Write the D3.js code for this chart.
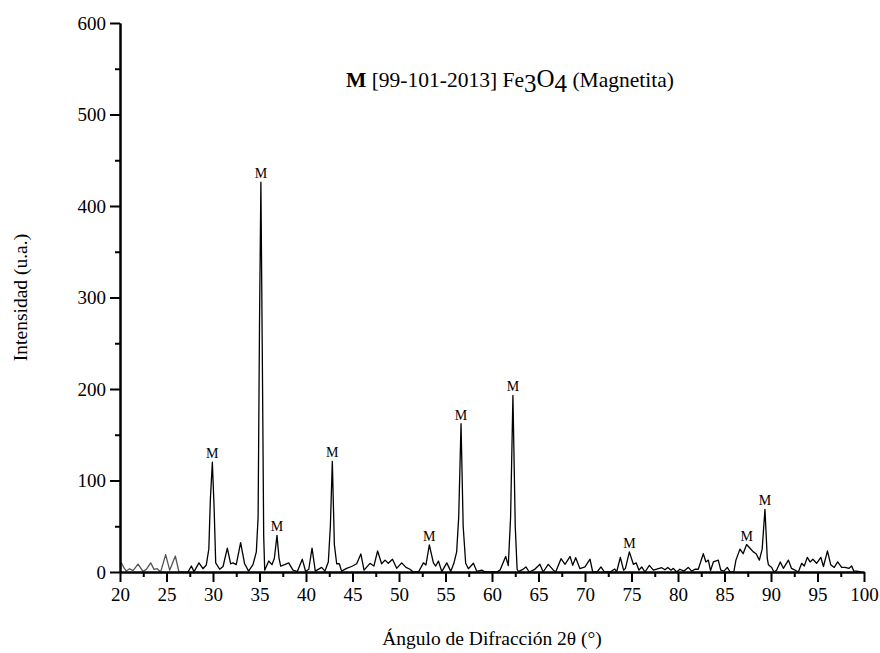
<!DOCTYPE html>
<html>
<head>
<meta charset="utf-8">
<script src="https://cdn.jsdelivr.net/npm/d3@7"></script>
<style>
  body { margin: 0; background: #fff; }
  text { font-family: "Liberation Serif", "Times New Roman", serif; }
</style>
</head>
<body>
<div id="chart"></div>
<script>
var angles = [20.0, 20.15, 20.4, 20.68, 21.04, 21.4, 21.94, 22.47, 22.83, 23.3, 23.66, 24.0, 24.37, 24.91, 25.34, 25.95, 26.34, 27.31, 27.67, 27.96,
  28.49, 28.92, 29.28, 29.55, 29.72, 29.93, 30.12, 30.29, 30.72, 31.08, 31.54, 31.9, 32.15, 32.5, 32.97, 33.4, 33.83, 34.3, 34.66, 34.85,
  35.0, 35.15, 35.3, 35.45, 35.56, 35.99, 36.34, 36.6, 36.88, 37.1, 37.28, 37.7, 38.14, 38.6, 39.07, 39.6, 39.96, 40.3, 40.65, 41.0,
  41.68, 42.04, 42.4, 42.62, 42.83, 43.05, 43.3, 43.58, 43.83, 44.37, 44.9, 45.45, 45.9, 46.24, 46.88, 47.3, 47.7, 48.13, 48.5, 48.85,
  49.3, 49.75, 50.29, 50.75, 51.18, 51.54, 52.1, 52.62, 52.9, 53.26, 53.7, 53.95, 54.24, 54.6, 55.14, 55.57, 55.9, 56.2, 56.42, 56.67,
  56.9, 57.17, 57.46, 58.0, 58.36, 58.9, 59.25, 60.5, 60.86, 61.47, 61.75, 62.0, 62.25, 62.5, 62.7, 62.84, 63.26, 63.65, 64.0, 64.55,
  65.15, 65.5, 66.05, 66.6, 66.85, 67.42, 67.85, 68.4, 68.68, 69.0, 69.46, 70.0, 70.54, 70.83, 71.3, 71.72, 72.08, 72.7, 73.2, 73.4,
  73.8, 74.15, 74.35, 74.77, 75.2, 75.5, 75.8, 76.1, 76.45, 76.92, 77.35, 77.9, 78.25, 78.6, 78.9, 79.25, 79.5, 79.86, 80.2, 80.64,
  81.1, 81.47, 81.83, 82.18, 82.72, 83.0, 83.26, 83.5, 83.8, 84.33, 84.6, 84.94, 85.3, 85.6, 86.0, 86.23, 86.66, 87.0, 87.38, 87.74,
  88.1, 88.4, 88.75, 89.05, 89.35, 89.6, 89.72, 90.07, 90.32, 90.6, 91.0, 91.33, 91.87, 92.2, 92.58, 92.94, 93.3, 93.58, 93.9, 94.2,
  94.5, 94.9, 95.36, 95.64, 96.07, 96.42, 96.8, 97.17, 97.6, 97.95, 98.4, 98.67, 98.9, 99.2, 99.7];
var intensities = [9, 10, 5, 1, 3.6, 1.5, 8.7, 0.7, 2.9, 10, 2.9, 3.6, 0, 19, 2, 17.5, 0, 0, 6.6, 0.4,
  10, 3.6, 7.7, 25, 80, 120, 70, 10, 3, 6, 26, 9, 10, 8, 32, 9, 1, 8, 22, 60,
  270, 426, 240, 40, 2, 12, 8, 15, 40, 15, 6.5, 8, 10, 2, 0.5, 14, 0.5, 3, 26, 1,
  5, 1, 11, 50, 121, 30, 9, 9, 1, 4, 6, 9, 19.7, 2, 9.5, 6.5, 23, 9, 13, 9.5,
  14, 4, 10, 5, 3, 0, 0, 10, 7.7, 29.5, 10, 6.5, 12, 0.4, 10, 0.7, 9.5, 22, 60, 162,
  50, 9.5, 3.6, 9.5, 0.7, 2, 0, 0, 2, 17, 7, 60, 193, 50, 3, 0.5, 2.5, 5.5, 0, 2.5,
  8.4, 0, 8.4, 2, 0, 14.6, 8.4, 17, 7.3, 15.6, 3.6, 5.5, 14, 0, 0, 5.5, 0, 0, 3.3, 0,
  16, 2, 4, 22, 8.4, 10, 2, 5.5, 0, 7.3, 2, 3.6, 4.7, 2.5, 5, 2, 4, 0, 3, 1,
  5, 1, 3, 3, 20, 11, 13, 1.5, 11, 13, 2, 1, 5, 0, 0, 13, 25, 20, 30, 26,
  22, 20, 13, 25, 68.5, 15, 8, 5, 0, 2, 11, 4, 13, 4, 2, 0, 9.5, 6.5, 16, 11,
  14, 9.5, 16, 6, 23, 8, 5, 11, 5, 5, 4, 6.5, 1, 1, 0];

// peaks indexed as magnetite (M)
var peaksM = [29.93, 35.15, 36.88, 42.83, 53.26, 56.67, 62.25, 74.77, 87.38, 89.35];

var xTicks = [20, 25, 30, 35, 40, 45, 50, 55, 60, 65, 70, 75, 80, 85, 90, 95, 100];
var yTicks = [0, 100, 200, 300, 400, 500, 600];

var W = 880, H = 653;
var mL = 120, mT = 23, mR = 864, mB = 572;

var svg = d3.select("#chart").append("svg")
	.attr("width", W)
	.attr("height", H)

var x = d3.scaleLinear().domain([20, 100]).range([mL, mR]);
var y = d3.scaleLinear().domain([0, 600]).range([mB, mT]);

var data = angles.map(function(a, i) { return { a: a, v: intensities[i] }; });

var line = d3.line()
	.x(function(d) { return x(d.a); })
	.y(function(d) { return y(d.v); })

// first stretch of the scan is drawn lighter in the original
var split = angles.indexOf(27.31);
svg.append("path")
	.datum(data.slice(0, split + 1))
	.attr("fill", "none")
	.attr("stroke", "#555")
	.attr("stroke-width", 1.3)
	.attr("stroke-linejoin", "round")
	.attr("d", line)
svg.append("path")
	.datum(data.slice(split))
	.attr("fill", "none")
	.attr("stroke", "#000")
	.attr("stroke-width", 1.3)
	.attr("stroke-linejoin", "round")
	.attr("d", line)

// M labels over the peaks
svg.selectAll("text.m")
	.data(peaksM)
	.enter()
		.append("text")
		.attr("class", "m")
		.attr("text-anchor", "middle")
		.attr("font-size", "14px")
		.attr("x", function(d) { return x(d); })
		.attr("y", function(d) { return y(intensities[angles.indexOf(d)]) - 4; })
		.text("M")

// axes
var xAxis = d3.axisBottom(x).tickValues(xTicks).tickSize(10).tickSizeOuter(0).tickPadding(6);
var xMinor = d3.axisBottom(x).tickValues(d3.range(22.5, 100, 5)).tickSize(5).tickSizeOuter(0).tickFormat("");
var yAxis = d3.axisLeft(y).tickValues(yTicks).tickSize(10).tickSizeOuter(0).tickPadding(4);
var yMinor = d3.axisLeft(y).tickValues(d3.range(50, 600, 100)).tickSize(5).tickSizeOuter(0).tickFormat("");

function styleAxis(g) {
	g.selectAll("path").attr("stroke", "#000").attr("stroke-width", 2)
	g.selectAll("line").attr("stroke", "#000").attr("stroke-width", 2)
	g.selectAll("text").attr("fill", "#000").attr("font-size", "19px")
		.attr("font-family", "Liberation Serif, Times New Roman, serif")
}

svg.append("g").attr("transform", "translate(0," + mB + ")").call(xMinor).call(styleAxis)
svg.append("g").attr("transform", "translate(0," + mB + ")").call(xAxis).call(styleAxis)
svg.append("g").attr("transform", "translate(" + mL + ",0)").call(yMinor).call(styleAxis)
svg.append("g").attr("transform", "translate(" + mL + ",0)").call(yAxis).call(styleAxis)

// axis titles
svg.append("text")
	.attr("text-anchor", "middle")
	.attr("font-size", "19.5px")
	.attr("x", 492)
	.attr("y", 645)
	.text("Ángulo de Difracción 2θ (°)")

svg.append("text")
	.attr("text-anchor", "middle")
	.attr("font-size", "19.5px")
	.attr("transform", "translate(27," + ((mT + mB) / 2) + ") rotate(-90)")
	.text("Intensidad (u.a.)")

// phase legend
var leg = svg.append("text")
	.attr("x", 346)
	.attr("y", 87)
	.attr("font-size", "21.5px")
leg.append("tspan").attr("font-weight", "bold").text("M")
leg.append("tspan").text(" [99-101-2013] Fe")
leg.append("tspan").attr("dy", 5).attr("font-size", "25px").text("3")
leg.append("tspan").attr("dy", -5).attr("font-size", "25px").text("O")
leg.append("tspan").attr("dy", 5).attr("font-size", "25px").text("4")
leg.append("tspan").attr("dy", -5).text(" (Magnetita)")
</script>
</body>
</html>
